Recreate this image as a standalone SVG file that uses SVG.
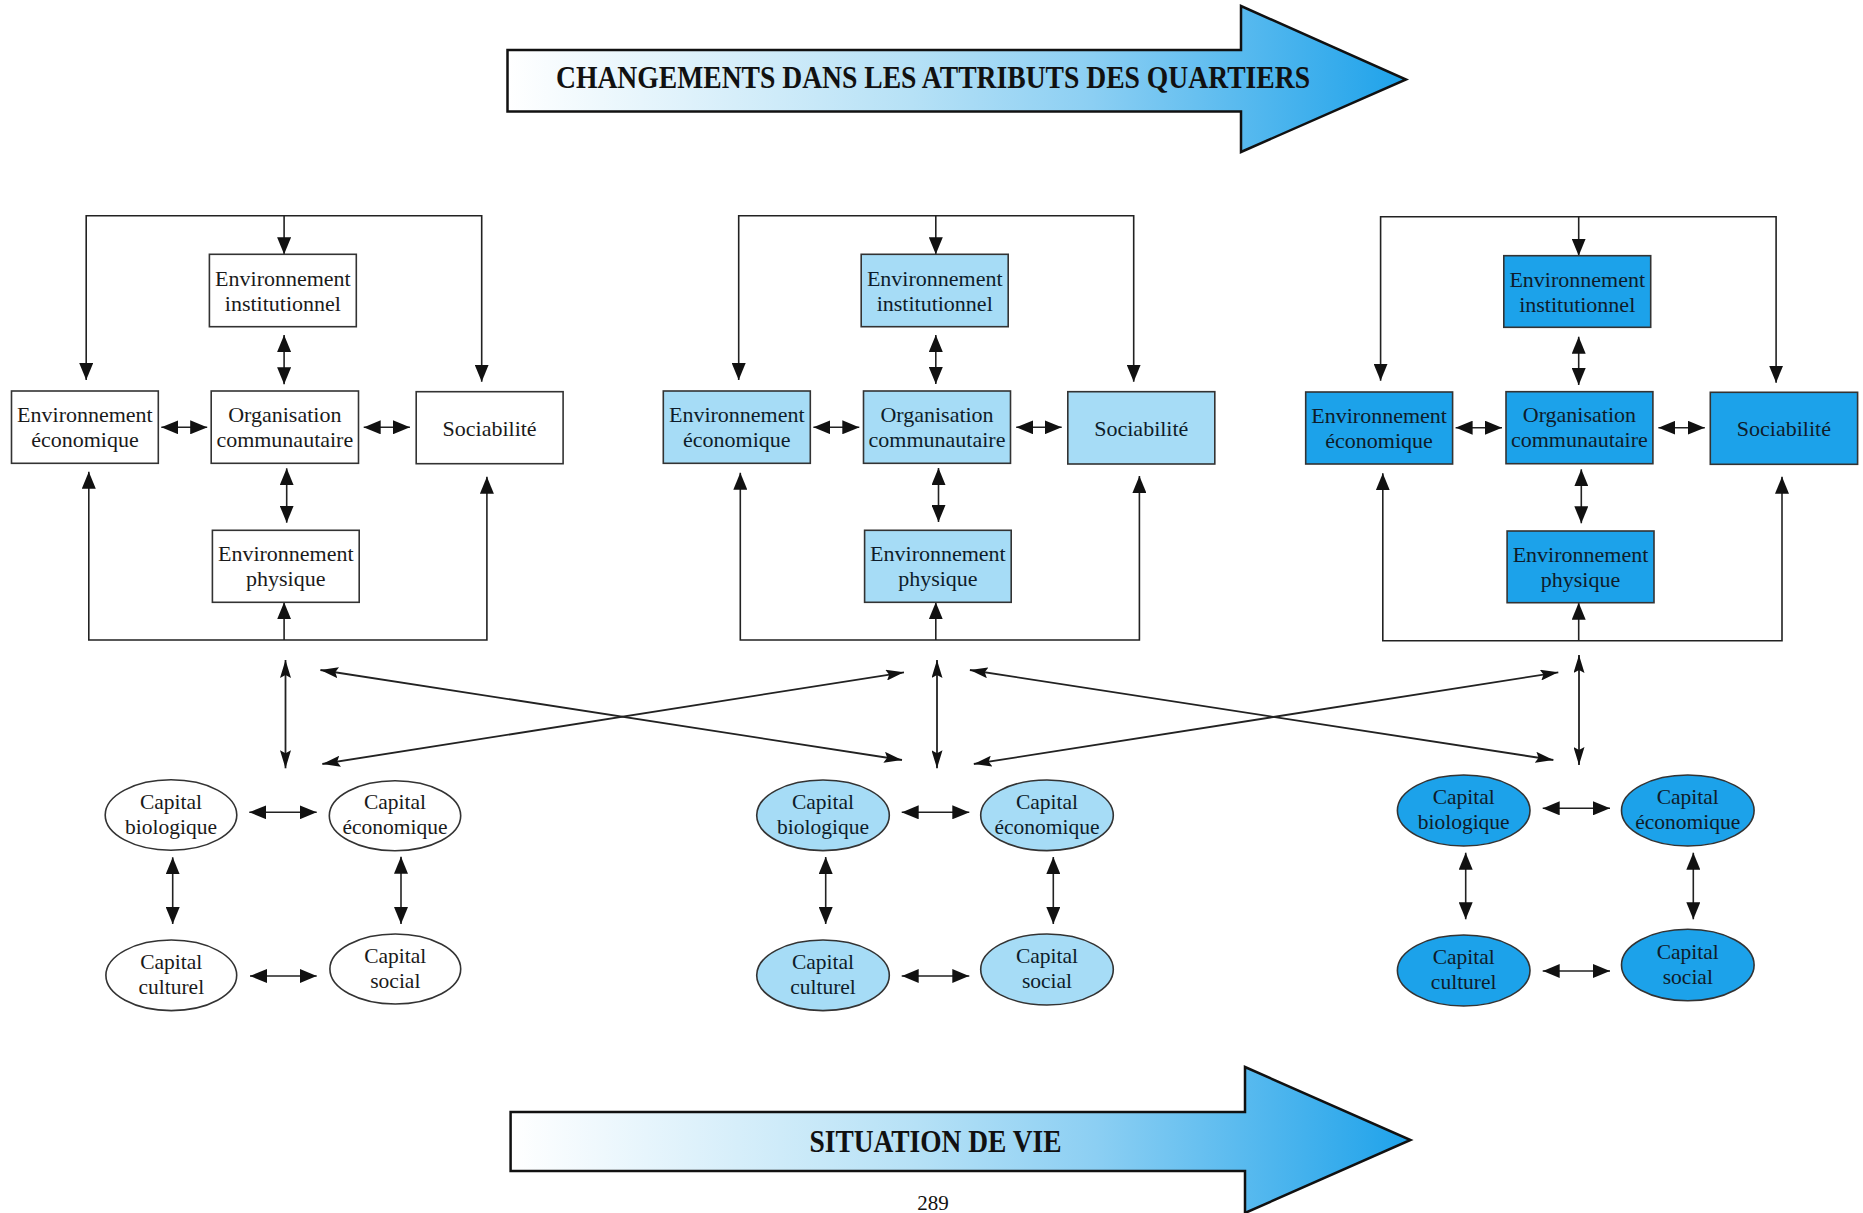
<svg xmlns="http://www.w3.org/2000/svg" width="1863" height="1213" viewBox="0 0 1863 1213">
<style>
.box{stroke:#333;stroke-width:1.6}
.w{fill:#ffffff}
.lb{fill:#a6dcf6}
.db{fill:#1ca2ea}
.t{font-family:"Liberation Serif","Times New Roman",serif;font-size:22px;text-anchor:middle;fill:#1a1a1a}
.te{font-family:"Liberation Serif","Times New Roman",serif;font-size:21.5px;text-anchor:middle;fill:#1a1a1a}
.tb{fill:#0e1c2a}
.c{fill:none;stroke:#222;stroke-width:1.6}
.f{marker-start:url(#h);marker-end:url(#h)}
.e{marker-end:url(#h)}
.m{fill:none;stroke:#222;stroke-width:1.8;marker-start:url(#n);marker-end:url(#n)}
.title{font-family:"Liberation Serif","Times New Roman",serif;font-weight:bold;font-size:31px;text-anchor:middle;fill:#111}
.big{stroke:#111;stroke-width:2.5;fill:url(#g)}
</style>
<defs>
<marker id="h" markerUnits="userSpaceOnUse" markerWidth="17" markerHeight="14" refX="17" refY="7" orient="auto-start-reverse" viewBox="0 0 17 14">
<path d="M0,0 L17,7 L0,14 z" fill="#111"/>
</marker>
<marker id="n" markerUnits="userSpaceOnUse" markerWidth="18" markerHeight="11" refX="18" refY="5.5" orient="auto-start-reverse" viewBox="0 0 18 11">
<path d="M0,0 L18,5.5 L0,11 L3,5.5 z" fill="#111"/>
</marker>
<linearGradient id="g" x1="0" y1="0" x2="1" y2="0">
<stop offset="0" stop-color="#ffffff"/>
<stop offset="0.45" stop-color="#b6e1f6"/>
<stop offset="0.65" stop-color="#8ccff3"/>
<stop offset="1" stop-color="#1ea2ea"/>
</linearGradient>
</defs>

<g id="arrow-top">
<polygon class="big" points="507.5,50 1241,50 1241,6 1406,79.5 1241,152 1241,111.5 507.5,111.5"/>
<text class="title" x="933" y="88" textLength="754" lengthAdjust="spacingAndGlyphs">CHANGEMENTS DANS LES ATTRIBUTS DES QUARTIERS</text>
</g>

<g id="arrow-bottom">
<polygon class="big" points="510.6,1112 1245,1112 1245,1067 1410.5,1140 1245,1213 1245,1171 510.6,1171"/>
<text class="title" x="935.5" y="1152" textLength="252" lengthAdjust="spacingAndGlyphs">SITUATION DE VIE</text>
</g>

<g id="connectors">
<!-- panel 1 -->
<path class="c f" d="M86.2,380 V215.7 H481.7 V381.7"/>
<path class="c e" d="M284.1,215.7 V254.3"/>
<path class="c f" d="M88.8,471.7 V640 H486.9 V476.7"/>
<path class="c e" d="M284.1,640 V602.3"/>
<path class="c f" d="M284.1,335 V384.3"/>
<path class="c f" d="M286.7,468.3 V522.7"/>
<path class="c f" d="M161.3,427.3 H207.2"/>
<path class="c f" d="M363.7,427.3 H409.9"/>
<!-- panel 2 -->
<path class="c f" d="M738.7,380 V215.7 H1133.7 V381.7"/>
<path class="c e" d="M935.8,215.7 V254.3"/>
<path class="c f" d="M740.3,472.7 V640 H1139.4 V476"/>
<path class="c e" d="M935.8,640 V602.3"/>
<path class="c f" d="M935.8,335 V384"/>
<path class="c f" d="M938.5,468 V522"/>
<path class="c f" d="M813.4,427.3 H859.3"/>
<path class="c f" d="M1016.2,427.3 H1061.7"/>
<!-- panel 3 -->
<path class="c f" d="M1380.6,380.7 V216.7 H1776.1 V382.7"/>
<path class="c e" d="M1578.7,216.7 V255.7"/>
<path class="c f" d="M1382.8,473.3 V640.7 H1782 V476.7"/>
<path class="c e" d="M1578.7,640.7 V602.7"/>
<path class="c f" d="M1578.7,336.7 V385"/>
<path class="c f" d="M1581.3,469.3 V523.3"/>
<path class="c f" d="M1455.6,427.7 H1502"/>
<path class="c f" d="M1658.4,427.7 H1704.8"/>
<!-- middle -->
<path class="m" d="M285.5,660 V768.3"/>
<path class="m" d="M320.4,670 L902,760"/>
<path class="m" d="M322.3,764 L904,672.3"/>
<path class="m" d="M937,660 V768.3"/>
<path class="m" d="M969.9,670 L1553.4,760"/>
<path class="m" d="M973.8,764 L1558.3,672.3"/>
<path class="m" d="M1579,655 V765"/>
<!-- capitals panel 1 -->
<path class="c f" d="M249.3,812.3 H316.7"/>
<path class="c f" d="M250,976 H316.7"/>
<path class="c f" d="M172.7,857.3 V924"/>
<path class="c f" d="M401,856.7 V924"/>
<!-- capitals panel 2 -->
<path class="c f" d="M901.7,812.3 H969.3"/>
<path class="c f" d="M901.7,976 H969.3"/>
<path class="c f" d="M825.7,857 V924"/>
<path class="c f" d="M1053.3,857 V924"/>
<!-- capitals panel 3 -->
<path class="c f" d="M1542.7,808.3 H1610"/>
<path class="c f" d="M1542.7,971 H1610"/>
<path class="c f" d="M1465.7,852.7 V919.3"/>
<path class="c f" d="M1693.3,852.7 V919.3"/>
</g>

<!-- Panel 1 nodes -->
<g id="p1-inst"><rect class="box w" x="209.4" y="254.3" width="146.9" height="72.4"/><text class="t" x="282.9" y="285.5">Environnement</text><text class="t" x="282.9" y="310.5">institutionnel</text></g>
<g id="p1-econ"><rect class="box w" x="11.5" y="391" width="146.8" height="72.3"/><text class="t" x="84.9" y="421.7">Environnement</text><text class="t" x="84.9" y="446.7">économique</text></g>
<g id="p1-org"><rect class="box w" x="211.2" y="391" width="147.3" height="72.3"/><text class="t" x="284.8" y="421.7">Organisation</text><text class="t" x="284.8" y="446.7">communautaire</text></g>
<g id="p1-soc"><rect class="box w" x="416.2" y="391.7" width="146.9" height="72"/><text class="t" x="489.6" y="435.5">Sociabilité</text></g>
<g id="p1-phys"><rect class="box w" x="212.4" y="530.3" width="146.8" height="72"/><text class="t" x="285.8" y="561">Environnement</text><text class="t" x="285.8" y="586">physique</text></g>

<!-- Panel 2 nodes -->
<g id="p2-inst"><rect class="box lb" x="861.2" y="254.3" width="147" height="72.4"/><text class="t tb" x="934.7" y="285.5">Environnement</text><text class="t tb" x="934.7" y="310.5">institutionnel</text></g>
<g id="p2-econ"><rect class="box lb" x="663.3" y="391" width="147" height="72.3"/><text class="t tb" x="736.8" y="421.7">Environnement</text><text class="t tb" x="736.8" y="446.7">économique</text></g>
<g id="p2-org"><rect class="box lb" x="863.5" y="391" width="147" height="72.3"/><text class="t tb" x="937" y="421.7">Organisation</text><text class="t tb" x="937" y="446.7">communautaire</text></g>
<g id="p2-soc"><rect class="box lb" x="1067.8" y="391.7" width="147" height="72.3"/><text class="t tb" x="1141.3" y="435.5">Sociabilité</text></g>
<g id="p2-phys"><rect class="box lb" x="864.6" y="530.3" width="146.6" height="72"/><text class="t tb" x="937.9" y="561">Environnement</text><text class="t tb" x="937.9" y="586">physique</text></g>

<!-- Panel 3 nodes -->
<g id="p3-inst"><rect class="box db" x="1503.8" y="255.7" width="146.9" height="71.6"/><text class="t tb" x="1577.2" y="286.5">Environnement</text><text class="t tb" x="1577.2" y="311.5">institutionnel</text></g>
<g id="p3-econ"><rect class="box db" x="1305.7" y="392" width="146.9" height="72"/><text class="t tb" x="1379.1" y="422.5">Environnement</text><text class="t tb" x="1379.1" y="447.5">économique</text></g>
<g id="p3-org"><rect class="box db" x="1506" y="391.7" width="146.9" height="72"/><text class="t tb" x="1579.4" y="422.2">Organisation</text><text class="t tb" x="1579.4" y="447.2">communautaire</text></g>
<g id="p3-soc"><rect class="box db" x="1710.3" y="392.3" width="147.3" height="72"/><text class="t tb" x="1783.9" y="436">Sociabilité</text></g>
<g id="p3-phys"><rect class="box db" x="1507.1" y="531" width="146.9" height="71.7"/><text class="t tb" x="1580.5" y="561.5">Environnement</text><text class="t tb" x="1580.5" y="586.5">physique</text></g>

<!-- Capitals panel 1 -->
<g id="p1-cbio"><ellipse class="box w" cx="171" cy="815" rx="65.8" ry="35.2"/><text class="te" x="171" y="808.7">Capital</text><text class="te" x="171" y="833.7">biologique</text></g>
<g id="p1-ceco"><ellipse class="box w" cx="395" cy="815.7" rx="65.7" ry="35"/><text class="te" x="395" y="809.4">Capital</text><text class="te" x="395" y="834.4">économique</text></g>
<g id="p1-ccul"><ellipse class="box w" cx="171.3" cy="975.3" rx="65.4" ry="35.3"/><text class="te" x="171.3" y="969">Capital</text><text class="te" x="171.3" y="994">culturel</text></g>
<g id="p1-csoc"><ellipse class="box w" cx="395.3" cy="969" rx="65.4" ry="35"/><text class="te" x="395.3" y="962.7">Capital</text><text class="te" x="395.3" y="987.7">social</text></g>

<!-- Capitals panel 2 -->
<g id="p2-cbio"><ellipse class="box lb" cx="823" cy="815.3" rx="66.3" ry="35.3"/><text class="te tb" x="823" y="809">Capital</text><text class="te tb" x="823" y="834">biologique</text></g>
<g id="p2-ceco"><ellipse class="box lb" cx="1047" cy="815.3" rx="66.3" ry="35.3"/><text class="te tb" x="1047" y="809">Capital</text><text class="te tb" x="1047" y="834">économique</text></g>
<g id="p2-ccul"><ellipse class="box lb" cx="823" cy="975.3" rx="66.3" ry="35.3"/><text class="te tb" x="823" y="969">Capital</text><text class="te tb" x="823" y="994">culturel</text></g>
<g id="p2-csoc"><ellipse class="box lb" cx="1047" cy="969.5" rx="66.3" ry="35.5"/><text class="te tb" x="1047" y="963.2">Capital</text><text class="te tb" x="1047" y="988.2">social</text></g>

<!-- Capitals panel 3 -->
<g id="p3-cbio"><ellipse class="box db" cx="1463.7" cy="810.5" rx="66.3" ry="35.5"/><text class="te tb" x="1463.7" y="804.2">Capital</text><text class="te tb" x="1463.7" y="829.2">biologique</text></g>
<g id="p3-ceco"><ellipse class="box db" cx="1687.8" cy="810.5" rx="66.3" ry="35.5"/><text class="te tb" x="1687.8" y="804.2">Capital</text><text class="te tb" x="1687.8" y="829.2">économique</text></g>
<g id="p3-ccul"><ellipse class="box db" cx="1463.7" cy="970.5" rx="66.3" ry="35.5"/><text class="te tb" x="1463.7" y="964.2">Capital</text><text class="te tb" x="1463.7" y="989.2">culturel</text></g>
<g id="p3-csoc"><ellipse class="box db" cx="1687.8" cy="965" rx="66.3" ry="35.7"/><text class="te tb" x="1687.8" y="958.7">Capital</text><text class="te tb" x="1687.8" y="983.7">social</text></g>

<text x="933" y="1210" font-family="Liberation Serif, Times New Roman, serif" font-size="21" text-anchor="middle" fill="#111">289</text>
</svg>
